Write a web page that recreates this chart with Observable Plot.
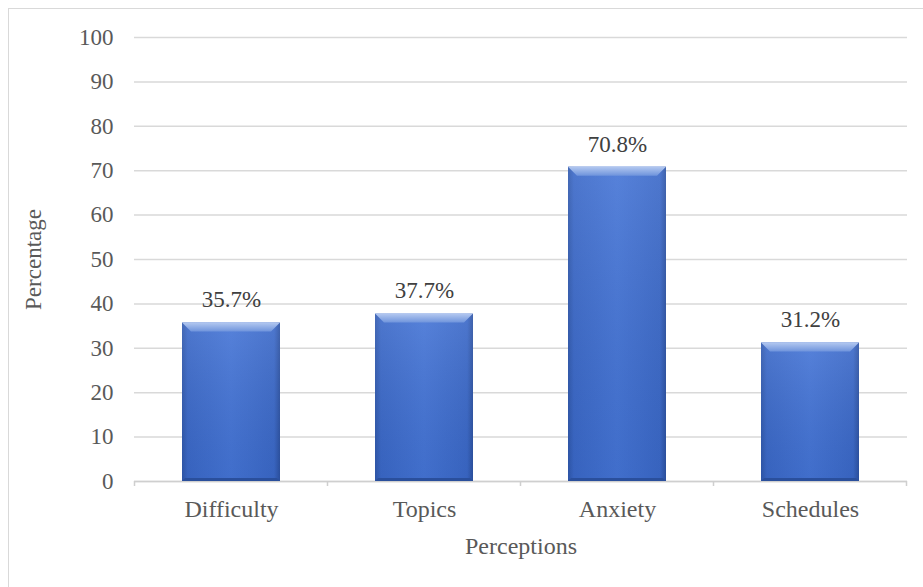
<!DOCTYPE html>
<html>
<head>
<meta charset="utf-8">
<script src="https://cdn.jsdelivr.net/npm/d3@7"></script>
<script src="https://cdn.jsdelivr.net/npm/@observablehq/plot@0.6"></script>
<style>
  html, body { margin: 0; padding: 0; background: #fff; }
  #wrap { position: relative; width: 923px; height: 587px; overflow: hidden; }
  #border { position: absolute; left: 8px; top: 8px; width: 930px; height: 600px;
            border-top: 1.5px solid #d9d9d9; border-left: 1.5px solid #d9d9d9; }
  #chart { position: absolute; left: 0; top: 0; }
</style>
</head>
<body>
<div id="wrap"><div id="border"></div><div id="chart"></div></div>
<script>
const categories = ["Difficulty", "Topics", "Anxiety", "Schedules"];
const values = [35.7, 37.7, 70.8, 31.2];
const yTicks = [0, 10, 20, 30, 40, 50, 60, 70, 80, 90, 100];
const xTitle = "Perceptions";
const yTitle = "Percentage";

const data = categories.map((c, i) => ({category: c, value: values[i]}));
const font = "'Liberation Serif', 'Times New Roman', serif";
const FS = 23;
const FL = 24;

const defs = () => {
  const d = d3.create("svg:defs");
  const g = d.append("linearGradient").attr("id", "barGrad").attr("x1", "0").attr("x2", "1").attr("y1", "0").attr("y2", "0");
  g.append("stop").attr("offset", "0").attr("stop-color", "#2f58ad");
  g.append("stop").attr("offset", "0.06").attr("stop-color", "#3a68c8");
  g.append("stop").attr("offset", "0.5").attr("stop-color", "#4474d6");
  g.append("stop").attr("offset", "0.94").attr("stop-color", "#3a68c8");
  g.append("stop").attr("offset", "1").attr("stop-color", "#2c52a3");
  const v = d.append("linearGradient").attr("id", "bodyGrad").attr("x1", "0").attr("x2", "0").attr("y1", "0").attr("y2", "1");
  v.append("stop").attr("offset", "0").attr("stop-color", "#ffffff").attr("stop-opacity", 0.1);
  v.append("stop").attr("offset", "1").attr("stop-color", "#000000").attr("stop-opacity", 0.05);
  const t = d.append("linearGradient").attr("id", "topGrad").attr("x1", "0").attr("x2", "0").attr("y1", "0").attr("y2", "1");
  t.append("stop").attr("offset", "0").attr("stop-color", "#b3c8f0");
  t.append("stop").attr("offset", "1").attr("stop-color", "#6f94dc");
  const f = d.append("filter").attr("id", "shadow").attr("x", "-10%").attr("y", "-10%").attr("width", "130%").attr("height", "130%");
  f.append("feDropShadow").attr("dx", 1.5).attr("dy", 1.5).attr("stdDeviation", 1.5).attr("flood-color", "#000").attr("flood-opacity", 0.3);
  return d.node();
};

function bandInfo(scales) {
  const sx = (scales.scales && scales.scales.x) || {};
  const step = (typeof scales.x.step === "number" ? scales.x.step : null) ?? sx.step ?? (scales.x(categories[1]) - scales.x(categories[0]));
  const bw = (typeof scales.x.bandwidth === "number" ? scales.x.bandwidth : null) ?? sx.bandwidth ?? step * (1 - 0.49);
  return {step, bw};
}

// bevel on top & bottom of each bar, positioned via the plot's scales
const bevel = (index, scales) => {
  const g = d3.create("svg:g");
  const {bw} = bandInfo(scales);
  for (const d of data) {
    const x0 = scales.x(d.category), x1 = x0 + bw;
    const y0 = scales.y(d.value), yb = scales.y(0);
    const k = 9;
    g.append("path")
      .attr("d", `M${x0},${y0}L${x1},${y0}L${x1 - k},${y0 + k}L${x0 + k},${y0 + k}Z`)
      .attr("fill", "url(#topGrad)");
    g.append("path")
      .attr("d", `M${x0},${yb}L${x1},${yb}L${x1 - 3},${yb - 3}L${x0 + 3},${yb - 3}Z`)
      .attr("fill", "#2a4f9c");
  }
  return g.node();
};

// small tick marks on the baseline at category boundaries
const boundaryTicks = (index, scales) => {
  const g = d3.create("svg:g");
  const {step, bw} = bandInfo(scales);
  const pad = (step - bw) / 2;
  const yb = scales.y(0);
  const xs = categories.map(c => scales.x(c) - pad);
  xs.push(scales.x(categories[categories.length - 1]) + bw + pad);
  for (const x of xs) {
    g.append("line").attr("x1", x).attr("x2", x).attr("y1", yb).attr("y2", yb + 5)
      .attr("stroke", "#cfcfcf").attr("stroke-width", 1.5);
  }
  return g.node();
};

const chart = Plot.plot({
  width: 923,
  height: 587,
  marginLeft: 134,
  marginRight: 16,
  marginTop: 37,
  marginBottom: 106,
  style: {fontFamily: font, fontSize: FS + "px", color: "#595959", background: "transparent", overflow: "visible"},
  x: {domain: categories, paddingInner: 0.49, paddingOuter: 0.245},
  y: {domain: [0, 100]},
  marks: [
    defs,
    Plot.gridY({ticks: yTicks, stroke: "#d9d9d9", strokeOpacity: 1, strokeWidth: 1.5}),
    Plot.ruleY([0], {stroke: "#cfcfcf", strokeWidth: 1.5}),
    boundaryTicks,
    Plot.barY(data, {x: "category", y: "value", fill: "url(#barGrad)", style: "filter:url(#shadow)"}),
    Plot.barY(data, {x: "category", y: "value", fill: "url(#bodyGrad)"}),
    bevel,
    Plot.text(data, {x: "category", y: "value", text: d => d.value.toFixed(1) + "%", dy: -23, fill: "#404040", fontSize: FS}),
    Plot.axisY({ticks: yTicks, tickSize: 0, tickPadding: 21, fontSize: FS, label: yTitle, labelAnchor: "center", labelOffset: 110, labelArrow: "none", fill: "#595959"}),
    Plot.axisX({tickSize: 0, tickPadding: 18, fontSize: FL, label: xTitle, labelAnchor: "center", labelOffset: 72, labelArrow: "none", fill: "#595959"})
  ]
});
document.getElementById("chart").appendChild(chart);
</script>
</body>
</html>
